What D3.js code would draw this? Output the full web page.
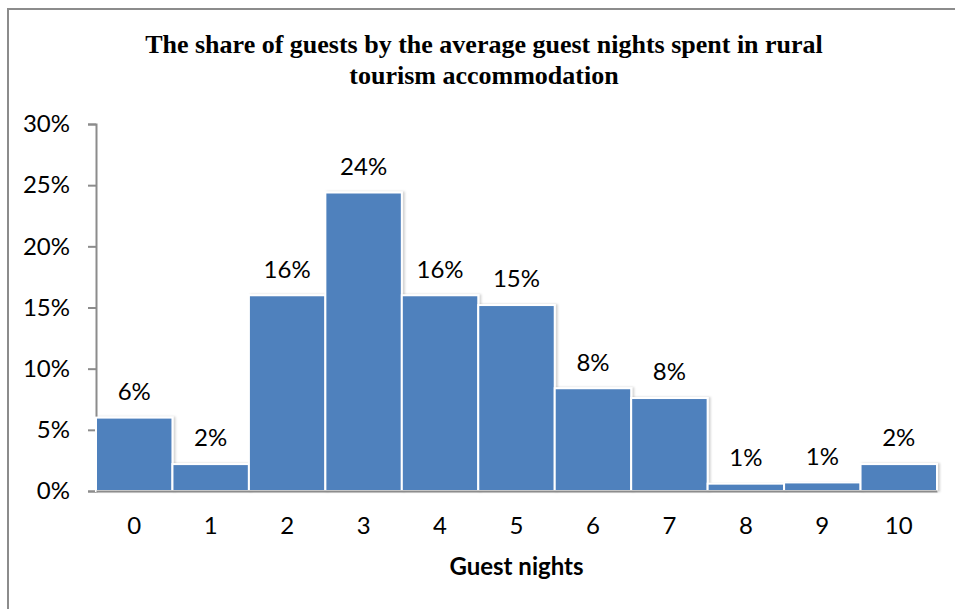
<!DOCTYPE html>
<html>
<head>
<meta charset="utf-8">
<script src="https://cdn.jsdelivr.net/npm/d3@7"></script>
<style>
  body { margin: 0; background: #fff; }
  svg { display: block; }
</style>
</head>
<body>
<div class="barchart"></div>
<script>
// guest nights categories and share of guests (fraction)
const nights = ["0", "1", "2", "3", "4", "5", "6", "7", "8", "9", "10"];
const shares = [0.060, 0.022, 0.160, 0.244, 0.160, 0.152, 0.084, 0.076, 0.006, 0.007, 0.022];
const yTicks = [0, 0.05, 0.10, 0.15, 0.20, 0.25, 0.30];
const titleLines = ["The share of guests by the average guest nights spent in rural", "tourism accommodation"];
const xTitle = "Guest nights";

const W = 955, H = 609;
const margin = { top: 124, right: 18, bottom: 118, left: 96 };
const width = W - margin.left - margin.right;
const height = H - margin.top - margin.bottom;

const root = d3.select('.barchart').append('svg')
    .attr('width', W)
    .attr('height', H);

// light shadow behind the bars
const defs = root.append('defs');
defs.append('filter').attr('id', 'shadow')
    .attr('x', '-10%').attr('y', '-10%').attr('width', '130%').attr('height', '130%')
  .append('feDropShadow')
    .attr('dx', 2).attr('dy', 0).attr('stdDeviation', 1)
    .attr('flood-color', '#000').attr('flood-opacity', 0.18);

// chart frame (runs off the right and bottom of the picture)
root.append('rect')
    .attr('x', 8).attr('y', 9)
    .attr('width', W + 10).attr('height', H + 10)
    .attr('fill', 'none')
    .attr('stroke', '#8c8c8c')
    .attr('stroke-width', 2);

const title = root.append('text')
    .attr('text-anchor', 'middle')
    .attr('font-family', '"Liberation Serif", "Times New Roman", serif')
    .attr('font-weight', 'bold')
    .attr('font-size', 26)
    .attr('fill', '#000');
titleLines.forEach((t, i) => {
    title.append('tspan').attr('x', 484).attr('y', 53 + i * 31).text(t);
});

const svg = root.append('g')
    .attr('transform', `translate(${margin.left},${margin.top})`);

const x = d3.scaleBand()
    .domain(nights)
    .range([0, width])
    .padding(0);

const y = d3.scaleLinear()
    .domain([0, 0.30])
    .range([height, 0]);

const font = 'Lato, "Open Sans", sans-serif';

// y axis
const yAxis = svg.append('g')
    .call(d3.axisLeft(y).tickValues(yTicks).tickFormat(d3.format('.0%')).tickSize(8).tickPadding(18));
yAxis.select('.domain').attr('stroke', '#8c8c8c').attr('stroke-width', 2);
yAxis.selectAll('.tick line').attr('stroke', '#8c8c8c').attr('stroke-width', 2);
yAxis.selectAll('.tick text')
    .attr('font-family', font).attr('font-size', 24).attr('fill', '#000');

// bars
svg.append('g').selectAll('rect')
    .data(shares)
    .join('rect')
    .attr('x', (d, i) => x(nights[i]))
    .attr('y', d => y(d))
    .attr('width', x.bandwidth())
    .attr('height', d => y(0) - y(d))
    .attr('fill', '#4f81bd')
    .attr('stroke', '#fff')
    .attr('stroke-width', 2)
    .attr('filter', 'url(#shadow)');

// x axis
const xAxis = svg.append('g')
    .attr('transform', `translate(0,${height})`)
    .call(d3.axisBottom(x).tickSize(0).tickPadding(26));
xAxis.select('.domain').attr('stroke', '#8c8c8c').attr('stroke-width', 2);
xAxis.selectAll('.tick text')
    .attr('font-family', font).attr('font-size', 24).attr('fill', '#000');

// data labels
svg.append('g').selectAll('text')
    .data(shares)
    .join('text')
    .attr('x', (d, i) => x(nights[i]) + x.bandwidth() / 2)
    .attr('y', d => y(d) - 26)
    .attr('dy', '0.35em')
    .attr('text-anchor', 'middle')
    .attr('font-family', font)
    .attr('font-size', 24)
    .attr('fill', '#000')
    .text(d => d3.format('.0%')(d));

svg.append('text')
    .attr('x', width / 2)
    .attr('y', height + 76)
    .attr('dy', '0.35em')
    .attr('text-anchor', 'middle')
    .attr('font-family', font)
    .attr('font-weight', 'bold')
    .attr('font-size', 24)
    .attr('fill', '#000')
    .text(xTitle);
</script>
</body>
</html>
